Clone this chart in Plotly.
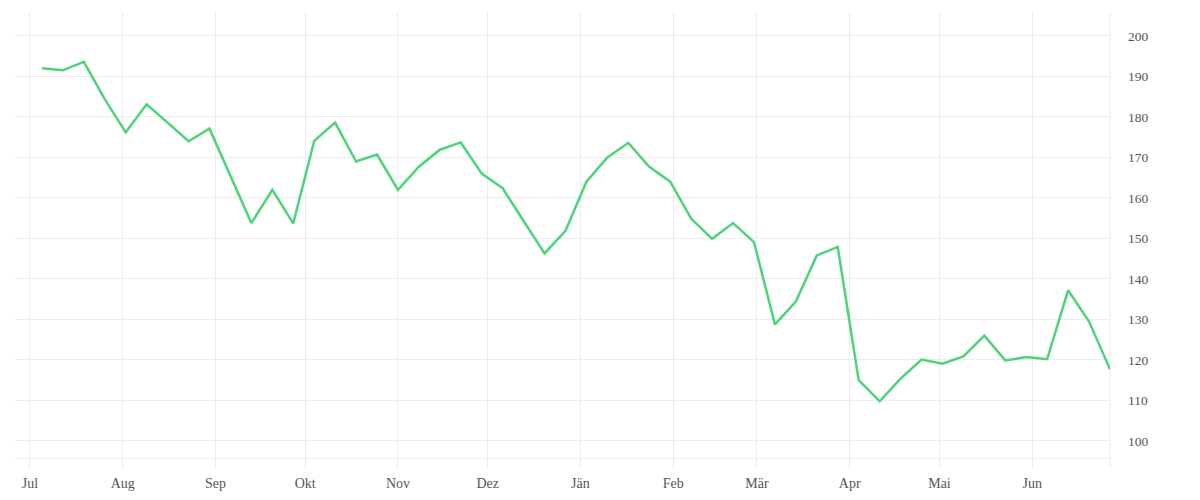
import pandas as pd
import plotly.graph_objects as go

start_date = "2022-07-05"
n_weeks = 52
dates = pd.date_range(start=start_date, periods=n_weeks, freq="7D")

values = [
    192.0, 191.5, 193.6, 184.4, 176.2, 183.1, 178.6, 174.0, 177.1, 165.4,
    153.8, 162.0, 153.7, 174.1, 178.6, 169.0, 170.7, 162.0, 167.7, 171.9,
    173.7, 166.0, 162.4, 154.3, 146.3, 151.9, 164.0, 170.0, 173.6, 167.7,
    164.0, 154.9, 149.9, 153.8, 149.1, 128.8, 134.4, 145.8, 147.9, 115.0,
    109.8, 115.4, 120.1, 119.1, 120.9, 126.0, 119.9, 120.7, 120.2, 137.2,
    129.5, 117.7,
]

tick_dates = ["2022-07-01", "2022-08-01", "2022-09-01", "2022-10-01", "2022-11-01",
              "2022-12-01", "2023-01-01", "2023-02-01", "2023-03-01", "2023-04-01",
              "2023-05-01", "2023-06-01"]
tick_labels = ["Jul", "Aug", "Sep", "Okt", "Nov", "Dez", "Jän", "Feb", "Mär", "Apr", "Mai", "Jun"]
y_ticks = [100, 110, 120, 130, 140, 150, 160, 170, 180, 190, 200]

grid = "#ececec"
xfont = dict(family="Liberation Serif", size=14, color="#555555")
yfont = dict(family="Liberation Serif", size=13.5, color="#555555")

fig = go.Figure()
fig.add_trace(go.Scatter(
    x=dates, y=values, mode="lines",
    line=dict(color="#4ed37b", width=2.5),
    hoverinfo="x+y", showlegend=False,
))

fig.update_layout(
    width=1200, height=500,
    margin=dict(l=7, r=98, t=4, b=50),
    paper_bgcolor="white", plot_bgcolor="white",
    font=xfont,
    xaxis=dict(
        range=["2022-06-26", "2023-06-27"],
        tickvals=tick_dates, ticktext=tick_labels,
        showgrid=True, gridcolor=grid, gridwidth=1,
        showline=True, linecolor=grid, linewidth=1,
        ticks="outside", ticklen=10, tickcolor=grid, tickwidth=1,
        ticklabelstandoff=2,
        zeroline=False, tickfont=xfont,
    ),
    yaxis=dict(
        side="right",
        range=[95.8, 205.9],
        tickvals=y_ticks,
        showgrid=True, gridcolor=grid, gridwidth=1,
        showline=False, zeroline=False,
        ticks="", ticklabelstandoff=17,
        tickfont=yfont,
    ),
    shapes=[dict(
        type="line", xref="paper", yref="paper",
        x0=1, x1=1, y0=-10 / 446, y1=1,
        line=dict(color=grid, width=1), layer="below",
    )],
)

fig.write_html("out.html")
